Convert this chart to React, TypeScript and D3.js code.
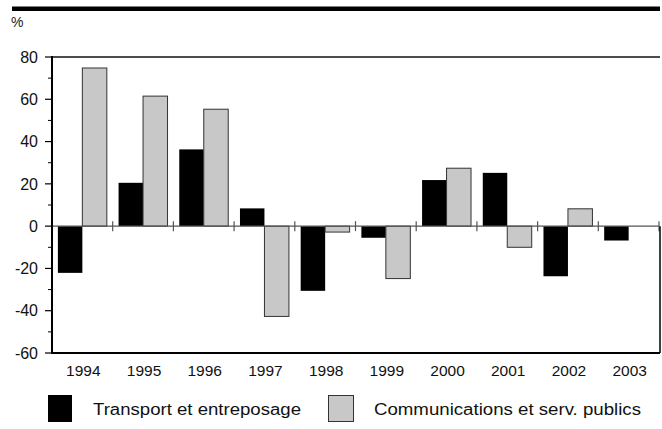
import React from "react";
import * as d3 from "d3";

const years = ["1994", "1995", "1996", "1997", "1998", "1999", "2000", "2001", "2002", "2003"];
const transport = [-22.1, 20.5, 36.3, 8.4, -30.6, -5.5, 21.8, 25.2, -23.7, -6.8];
const communications = [74.8, 61.5, 55.3, -42.7, -2.8, -24.8, 27.4, -10, 8.2, 0];
const seriesNames = ["Transport et entreposage", "Communications et serv. publics"];
const yTicks = [80, 60, 40, 20, 0, -20, -40, -60];
const yMinorTicks = [70, 50, 30, 10, -10, -30, -50];

const W = 662;
const H = 429;
const left = 52;
const right = 659;
const top = 57;
const bottom = 353;
const FONT = "'Liberation Sans', Arial, sans-serif";

export default function App() {
  const x = d3.scaleBand<string>().domain(years).range([left, right]).paddingInner(0).paddingOuter(0);
  const inner = d3.scaleBand<string>().domain(["t", "c"]).range([0, x.bandwidth()]).paddingOuter(0.24).paddingInner(0);
  const y = d3.scaleLinear().domain([-60, 80]).range([bottom, top]);
  const y0 = y(0);

  const bar = (v: number) => ({ y: Math.min(y(v), y0), h: Math.abs(y(v) - y0) });

  return (
    <svg width={W} height={H} style={{ position: "absolute", left: 0, top: 0, background: "#fff" }}>
      <rect x={12} y={6.5} width={648} height={4.5} fill="#000" />
      <text x={11} y={27} fontFamily={FONT} fontSize={14} fill="#222">%</text>

      {/* bars */}
      {years.map((yr, i) => {
        const bx = x(yr)!;
        const t = bar(transport[i]);
        const c = bar(communications[i]);
        return (
          <g key={yr}>
            {t.h > 0 && (
              <rect x={bx + inner("t")!} y={t.y} width={inner.bandwidth()} height={t.h} fill="#000" />
            )}
            {c.h > 0 && (
              <rect x={bx + inner("c")!} y={c.y} width={inner.bandwidth()} height={c.h} fill="#c8c8c8" stroke="#333" strokeWidth={1} />
            )}
          </g>
        );
      })}

      {/* zero line with ticks */}
      <line x1={left} x2={right} y1={y0} y2={y0} stroke="#555" strokeWidth={1.2} />
      {years.map((yr) => (
        <line key={"zt" + yr} x1={x(yr)! + x.bandwidth()} x2={x(yr)! + x.bandwidth()} y1={y0 - 5} y2={y0 + 5} stroke="#555" strokeWidth={1.2} />
      ))}

      {/* frame */}
      <line x1={left} x2={right + 1} y1={top} y2={top} stroke="#111" strokeWidth={1.6} />
      <line x1={left} x2={right + 1} y1={bottom} y2={bottom} stroke="#000" strokeWidth={2} />
      <line x1={left} x2={left} y1={top - 1} y2={bottom + 1} stroke="#000" strokeWidth={2} />
      <line x1={right + 1} x2={right + 1} y1={y0} y2={bottom} stroke="#000" strokeWidth={1.5} />

      {/* y ticks */}
      {yTicks.map((v) => (
        <g key={"yt" + v}>
          <line x1={left - 7} x2={left} y1={y(v)} y2={y(v)} stroke="#000" strokeWidth={1.2} />
          <text x={38} y={y(v)} dy="0.36em" textAnchor="end" fontFamily={FONT} fontSize={16} fill="#111">{v}</text>
        </g>
      ))}
      {yMinorTicks.map((v) => (
        <line key={"ym" + v} x1={left - 4} x2={left} y1={y(v)} y2={y(v)} stroke="#000" strokeWidth={1} />
      ))}

      {/* x labels */}
      {years.map((yr) => (
        <text key={"xl" + yr} x={x(yr)! + x.bandwidth() / 2 + 1} y={376} textAnchor="middle" fontFamily={FONT} fontSize={15.5} fill="#111">{yr}</text>
      ))}

      {/* legend */}
      <rect x={48} y={395} width={24} height={27} fill="#000" />
      <text x={93} y={415} fontFamily={FONT} fontSize={16} fill="#111" textLength={208} lengthAdjust="spacingAndGlyphs">{seriesNames[0]}</text>
      <rect x={328.5} y={395.5} width={25} height={26} fill="#c8c8c8" stroke="#333" strokeWidth={1} />
      <text x={374} y={415} fontFamily={FONT} fontSize={16} fill="#111" textLength={267} lengthAdjust="spacingAndGlyphs">{seriesNames[1]}</text>
    </svg>
  );
}
